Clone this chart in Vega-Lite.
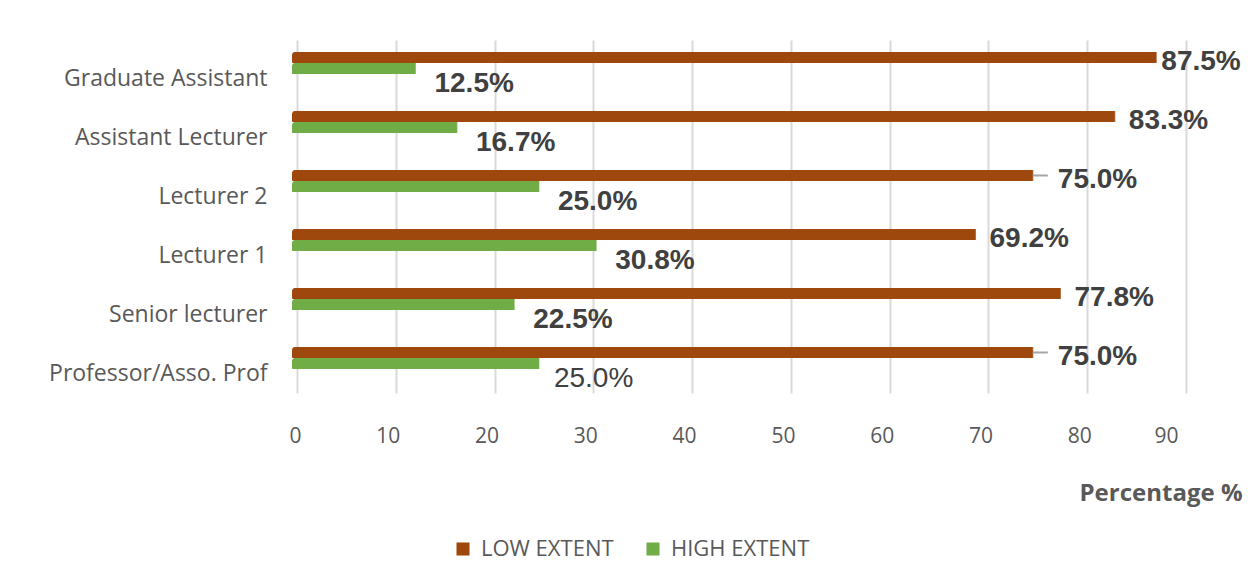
{
  "$schema": "https://vega.github.io/schema/vega-lite/v6.json",
  "autosize": "none",
  "width": 889,
  "height": 353,
  "padding": {"left": 292, "top": 40, "right": 70, "bottom": 193},
  "background": "white",
  "config": {
    "view": {"stroke": null},
    "font": "Open Sans"
  },
  "data": {
    "values": [
      {"role": "Graduate Assistant", "series": "LOW EXTENT", "value": 87.5},
      {"role": "Graduate Assistant", "series": "HIGH EXTENT", "value": 12.5},
      {"role": "Assistant Lecturer", "series": "LOW EXTENT", "value": 83.3},
      {"role": "Assistant Lecturer", "series": "HIGH EXTENT", "value": 16.7},
      {"role": "Lecturer 2", "series": "LOW EXTENT", "value": 75.0},
      {"role": "Lecturer 2", "series": "HIGH EXTENT", "value": 25.0},
      {"role": "Lecturer 1", "series": "LOW EXTENT", "value": 69.2},
      {"role": "Lecturer 1", "series": "HIGH EXTENT", "value": 30.8},
      {"role": "Senior lecturer", "series": "LOW EXTENT", "value": 77.8},
      {"role": "Senior lecturer", "series": "HIGH EXTENT", "value": 22.5},
      {"role": "Professor/Asso. Prof", "series": "LOW EXTENT", "value": 75.0},
      {"role": "Professor/Asso. Prof", "series": "HIGH EXTENT", "value": 25.0}
    ]
  },
  "transform": [
    {"calculate": "format(datum.value, '.1f') + '%'", "as": "label"}
  ],
  "encoding": {
    "y": {
      "field": "role",
      "type": "nominal",
      "sort": ["Graduate Assistant", "Assistant Lecturer", "Lecturer 2", "Lecturer 1", "Senior lecturer", "Professor/Asso. Prof"],
      "scale": {"paddingInner": 0.627, "paddingOuter": 0.305, "align": 0.333},
      "axis": {
        "title": null,
        "domain": false,
        "ticks": false,
        "labelFont": "Open Sans",
        "labelFontSize": 23,
        "labelColor": "#595959",
        "labelPadding": 25,
        "labelOffset": 16,
        "labelLimit": 0
      }
    },
    "yOffset": {
      "field": "series",
      "type": "nominal",
      "sort": ["LOW EXTENT", "HIGH EXTENT"],
      "scale": {"paddingInner": 0, "paddingOuter": 0}
    }
  },
  "layer": [
    {
      "mark": {"type": "bar", "cornerRadiusTopLeft": 3, "cornerRadiusBottomLeft": 1},
      "encoding": {
        "x": {
          "field": "value",
          "type": "quantitative",
          "scale": {"domain": [0, 90], "nice": false},
          "axis": {
            "values": [0, 10, 20, 30, 40, 50, 60, 70, 80, 90],
            "domain": false,
            "ticks": false,
            "grid": true,
            "gridColor": "#d9d9d9",
            "gridWidth": 2,
            "tickOffset": 5,
            "labelOffset": -8,
            "labelFont": "Open Sans",
            "labelFontSize": 21,
            "labelColor": "#595959",
            "labelPadding": 32,
            "title": "Percentage %",
            "titleFont": "Open Sans",
            "titleFontSize": 24,
            "titleFontWeight": "bold",
            "titleColor": "#595959",
            "titleAlign": "right",
            "titleBaseline": "middle",
            "titleAnchor": null,
            "titleX": 950,
            "titleY": 100
          }
        },
        "color": {
          "field": "series",
          "type": "nominal",
          "scale": {"domain": ["LOW EXTENT", "HIGH EXTENT"], "range": ["#9E480E", "#70AD47"]},
          "legend": {
            "title": null,
            "orient": "none",
            "direction": "horizontal",
            "legendX": 160,
            "legendY": 498,
            "symbolType": "square",
            "symbolSize": 170,
            "symbolStrokeWidth": 0,
            "labelFont": "Open Sans",
            "labelFontSize": 22,
            "labelColor": "#595959",
            "labelOffset": 7,
            "columnPadding": 28
          }
        }
      }
    },
    {
      "mark": {"type": "tick", "orient": "vertical", "thickness": 3, "size": 11, "xOffset": -1},
      "encoding": {
        "x": {"field": "value", "type": "quantitative"},
        "color": {
          "field": "series",
          "type": "nominal",
          "scale": {"domain": ["LOW EXTENT", "HIGH EXTENT"], "range": ["#6E3209", "#4B7A2E"]},
          "legend": null
        }
      }
    },
    {
      "transform": [{"filter": "datum.series == 'LOW EXTENT' && datum.value == 75"}],
      "mark": {"type": "rule", "x2Offset": 15, "yOffset": 2, "color": "#a6a6a6", "strokeWidth": 2},
      "encoding": {
        "x": {"field": "value", "type": "quantitative"},
        "x2": {"field": "value"}
      }
    },
    {
      "transform": [{"filter": "datum.series == 'LOW EXTENT' && datum.value != 75 && datum.value != 87.5"}],
      "mark": {"type": "text", "align": "left", "baseline": "middle", "dx": 14, "dy": 5, "font": "Liberation Sans", "fontSize": 28, "fontWeight": "bold", "color": "#404040"},
      "encoding": {
        "x": {"field": "value", "type": "quantitative"},
        "text": {"field": "label"}
      }
    },
    {
      "transform": [{"filter": "datum.series == 'LOW EXTENT' && datum.value == 87.5"}],
      "mark": {"type": "text", "align": "left", "baseline": "middle", "dx": 5, "dy": 5, "font": "Liberation Sans", "fontSize": 28, "fontWeight": "bold", "color": "#404040"},
      "encoding": {
        "x": {"field": "value", "type": "quantitative"},
        "text": {"field": "label"}
      }
    },
    {
      "transform": [{"filter": "datum.series == 'LOW EXTENT' && datum.value == 75"}],
      "mark": {"type": "text", "align": "left", "baseline": "middle", "dx": 25, "dy": 5, "font": "Liberation Sans", "fontSize": 28, "fontWeight": "bold", "color": "#404040"},
      "encoding": {
        "x": {"field": "value", "type": "quantitative"},
        "text": {"field": "label"}
      }
    },
    {
      "transform": [{"filter": "datum.series == 'HIGH EXTENT' && datum.role != 'Professor/Asso. Prof'"}],
      "mark": {"type": "text", "align": "left", "baseline": "middle", "dx": 19, "dy": 16, "font": "Liberation Sans", "fontSize": 28, "fontWeight": "bold", "color": "#404040"},
      "encoding": {
        "x": {"field": "value", "type": "quantitative"},
        "text": {"field": "label"}
      }
    },
    {
      "transform": [{"filter": "datum.series == 'HIGH EXTENT' && datum.role == 'Professor/Asso. Prof'"}],
      "mark": {"type": "text", "align": "left", "baseline": "middle", "dx": 15, "dy": 16, "font": "Liberation Sans", "fontSize": 28, "fontWeight": "normal", "color": "#404040"},
      "encoding": {
        "x": {"field": "value", "type": "quantitative"},
        "text": {"field": "label"}
      }
    }
  ]
}
